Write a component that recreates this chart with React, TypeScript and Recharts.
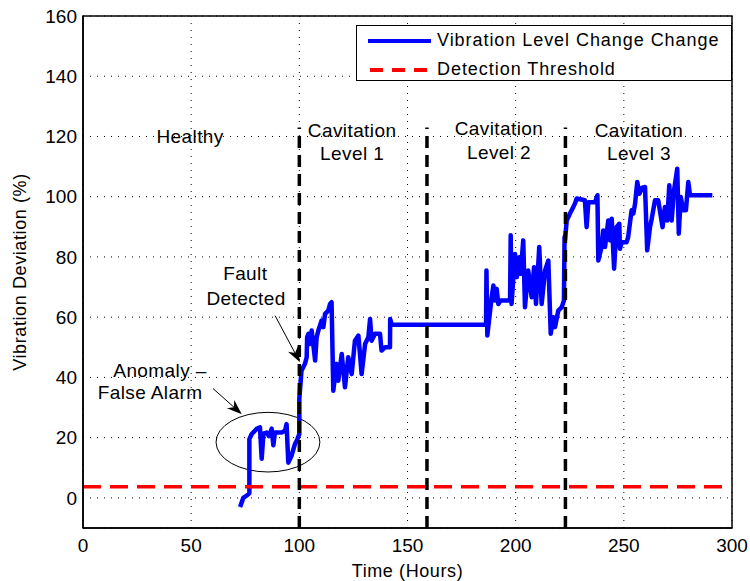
import { LineChart, Line, XAxis, YAxis, CartesianGrid, ReferenceLine, ReferenceArea, ReferenceDot, Legend } from 'recharts';

// vibration level change (hours, %)
const vibTime = [
  72.6, 74.1, 75.7, 76.9, 76.9, 78, 80.2, 81.8, 82.6, 83.4, 84.9, 86, 87.2, 88, 88.7, 91.8, 93.4, 94.1, 94.9, 96.4,
  98, 99.1, 100, 100, 101, 102.6, 103.4, 103.6, 104.2, 104.9, 105.7, 107.3, 108, 108.8, 110.3, 111.1, 111.9, 113.4,
  114.2, 114.9, 115.7, 117.2, 118, 119.6, 121.1, 122.6, 124.2, 125.7, 127.3, 128.8, 130.4, 131.9, 132.7, 133.4, 135,
  137.3, 138, 139.6, 141.9, 142, 142.7, 186.3, 186.5, 186.9, 188.9, 189.7, 190.4, 191.2, 192, 193, 197.4, 197.7,
  198.1, 199.7, 200.5, 201.7, 202.3, 203.5, 204.3, 205.8, 207.4, 208.5, 209.4, 210.9, 212, 213.6, 215.1, 216.2,
  217.4, 218.2, 219.7, 221.3, 222.3, 222.6, 222.8, 223.6, 225.1, 225.9, 227.4, 228.2, 232, 232.8, 233.6, 236.7,
  237.8, 238.2, 239.7, 240.5, 241.3, 242.8, 243.6, 244.4, 245.5, 246.6, 247.9, 248.2, 249, 251.3, 252, 253.6, 254.4,
  255.2, 256.2, 257.2, 258.5, 259.8, 260.8, 262.1, 262.9, 264.4, 265.9, 267.9, 269, 270.1, 271, 272.1, 273.2, 274.7,
  275.4, 276.3, 277.5, 278.7, 279.8, 280.6, 290.9,
];
const vibValue = [
  -3, 0, 0.8, 1.5, 19.5, 21.2, 22.9, 23.4, 13, 21.3, 21.7, 20.5, 23, 17.5, 21.7, 21.7, 22.3, 24.5, 11.7, 14,
  17.9, 19.5, 21.2, 33, 42.2, 44.5, 46.7, 53.3, 54.5, 51.1, 55.6, 45.6, 53.3, 55.6, 58.9, 56.7, 61.1, 62.2,
  64.4, 65, 35.6, 44.5, 38.9, 47.8, 36.7, 46.7, 41.1, 52.2, 53.9, 41.1, 51.1, 53.3, 59.4, 52.2, 54.5,
  54.5, 48.9, 50, 50, 59.4, 57.5, 57.5, 75.5, 53.9, 66.6, 70.5, 65.5, 69.4, 64.4, 65.5, 65.5, 87.2,
  64.4, 81, 73.3, 79.9, 74.4, 85.5, 63.3, 75.5, 66.6, 76.6, 64.4, 83.3, 64.4, 75.5, 78.8, 54.5,
  60, 56.7, 62.2, 63.3, 65.5, 86.6, 85.5, 92.1, 94.4, 95.5, 97.7, 99.4, 98.8, 89.9, 98.2, 98.2,
  100.5, 78.8, 83.3, 88.8, 83.3, 92.1, 85.5, 92.7, 76.1, 89.9, 91, 82.7, 84.9, 84.9, 86.6, 95.5, 94.4,
  97.7, 104.9, 101, 103, 103.2, 82.2, 89.9, 92.7, 98.8, 98.8, 89.9, 96.6, 92.1, 103.8, 92.1, 102.1, 109.3,
  87.7, 99.9, 95.5, 95.5, 104.9, 100.5, 100.5,
];

const thresholdTime = [0, 300];
const thresholdValue = [3.7, 3.7];

const stageBoundaries = [100, 159, 223];
const xTicks = [0, 50, 100, 150, 200, 250, 300];
const yTicks = [0, 20, 40, 60, 80, 100, 120, 140, 160];

const vibData = vibTime.map((t, i) => ({ t, v: vibValue[i] }));
const thresholdData = thresholdTime.map((t, i) => ({ t, v: thresholdValue[i] }));

const FONT = '"Liberation Sans", Arial, Helvetica, sans-serif';
const FS = 19;

const notes = [
  { x: 49.5, y: 120, text: 'Healthy' },
  { x: 124.4, y: 122.2, text: 'Cavitation' },
  { x: 124.4, y: 114.4, text: 'Level 1' },
  { x: 192.3, y: 122.6, text: 'Cavitation' },
  { x: 192.3, y: 114.8, text: 'Level 2' },
  { x: 257, y: 122.2, text: 'Cavitation' },
  { x: 257, y: 114.4, text: 'Level 3' },
  { x: 75, y: 74.5, text: 'Fault' },
  { x: 75.4, y: 66.2, text: 'Detected' },
  { x: 35.6, y: 42.4, text: 'Anomaly \u2013' },
  { x: 31, y: 35.2, text: 'False Alarm' },
];

const arrowShape = (p: any) => {
  const { x1, y1, x2, y2 } = p;
  const a = Math.atan2(y2 - y1, x2 - x1);
  const c = Math.cos(a);
  const s = Math.sin(a);
  const L = 15;
  const W = 5.5;
  const bx = x2 - L * c;
  const by = y2 - L * s;
  const nx = x2 - L * 0.7 * c;
  const ny = y2 - L * 0.7 * s;
  const pts = [
    [x2, y2],
    [bx - W * s, by + W * c],
    [nx, ny],
    [bx + W * s, by - W * c],
  ]
    .map((q) => q.join(','))
    .join(' ');
  return (
    <g>
      <line x1={x1} y1={y1} x2={nx} y2={ny} stroke="#000" strokeWidth={1} />
      <polygon points={pts} fill="#000" />
    </g>
  );
};

const ellipseShape = (p: any) => (
  <ellipse
    cx={p.x + p.width / 2}
    cy={p.y + p.height / 2}
    rx={p.width / 2}
    ry={p.height / 2}
    fill="none"
    stroke="#000"
    strokeWidth={1}
  />
);

const LegendBox = () => (
  <div
    style={{
      boxSizing: 'border-box',
      width: 376,
      height: 56,
      border: '1.5px solid #000',
      background: '#fff',
      fontFamily: FONT,
      fontSize: 18,
      letterSpacing: 0.95,
      color: '#000',
      position: 'relative',
    }}
  >
    <svg width={76} height={56} style={{ position: 'absolute', left: 0, top: 0 }}>
      <line x1={11} y1={15} x2={74} y2={15} stroke="#0000ff" strokeWidth={4} />
      <line x1={13} y1={44} x2={74} y2={44} stroke="#ff0000" strokeWidth={4} strokeDasharray="13 9" />
    </svg>
    <div style={{ position: 'absolute', left: 80, top: 4, whiteSpace: 'nowrap' }}>Vibration Level Change Change</div>
    <div style={{ position: 'absolute', left: 80, top: 33, whiteSpace: 'nowrap' }}>Detection Threshold</div>
  </div>
);

export default function App() {
  return (
    <div style={{ position: 'absolute', left: 0, top: 0, background: '#fff' }}>
      <LineChart width={750} height={581} margin={{ top: 16, right: 18, left: 0, bottom: 0 }}>
        <CartesianGrid stroke="#000" strokeDasharray="1 6" strokeWidth={1} />
        <XAxis
          dataKey="t"
          type="number"
          domain={[0, 300]}
          ticks={xTicks}
          height={53}
          tickLine={false}
          tickMargin={5}
          axisLine={{ stroke: '#000', strokeWidth: 1.5 }}
          tick={{ fill: '#000', fontSize: FS, fontFamily: FONT }}
          label={{
            value: 'Time (Hours)',
            position: 'insideBottom',
            offset: 4,
            fill: '#000',
            fontSize: 18,
            letterSpacing: 0.6,
            fontFamily: FONT,
          }}
        />
        <YAxis
          type="number"
          domain={[-10, 160]}
          ticks={yTicks}
          width={83}
          tickLine={false}
          tickMargin={0}
          axisLine={{ stroke: '#000', strokeWidth: 1.5 }}
          tick={{ fill: '#000', fontSize: FS, fontFamily: FONT }}
          label={{
            value: 'Vibration Deviation (%)',
            angle: -90,
            position: 'insideLeft',
            offset: 20,
            style: { textAnchor: 'middle' },
            fill: '#000',
            fontSize: 18,
            letterSpacing: 0.6,
            fontFamily: FONT,
          }}
        />
        <ReferenceArea x1={0} x2={300} y1={-10} y2={160} fill="none" stroke="#000" strokeWidth={1.5} />
        <Line
          data={vibData}
          dataKey="v"
          type="linear"
          stroke="#0000ff"
          strokeWidth={4.5}
          strokeLinejoin="round"
          dot={false}
          isAnimationActive={false}
          name="Vibration Level Change Change"
        />
        <Line
          data={thresholdData}
          dataKey="v"
          type="linear"
          stroke="#ff0000"
          strokeWidth={3.5}
          strokeDasharray="18 9"
          dot={false}
          isAnimationActive={false}
          name="Detection Threshold"
        />
        {stageBoundaries.map((b) => (
          <ReferenceLine
            key={b}
            segment={[{ x: b, y: -10 }, { x: b, y: 123 }]}
            stroke="#000"
            strokeWidth={3.5}
            strokeDasharray="12 7"
          />
        ))}
        <ReferenceArea x1={61.5} x2={109.5} y1={8.6} y2={28.4} shape={ellipseShape} />
        <ReferenceLine segment={[{ x: 60.1, y: 36.3 }, { x: 73.4, y: 27.8 }]} shape={arrowShape} />
        <ReferenceLine segment={[{ x: 88.8, y: 60.5 }, { x: 100.3, y: 45 }]} shape={arrowShape} />
        {notes.map((n, i) => (
          <ReferenceDot
            key={i}
            x={n.x}
            y={n.y}
            r={0}
            fill="none"
            stroke="none"
            label={{ value: n.text, position: 'center', fill: '#000', fontSize: FS, letterSpacing: 0.4, fontFamily: FONT }}
          />
        ))}
        <Legend
          layout="horizontal"
          verticalAlign="middle"
          content={() => <LegendBox />}
          wrapperStyle={{ top: 25, left: 356, width: 376, height: 56 }}
        />
      </LineChart>
    </div>
  );
}
